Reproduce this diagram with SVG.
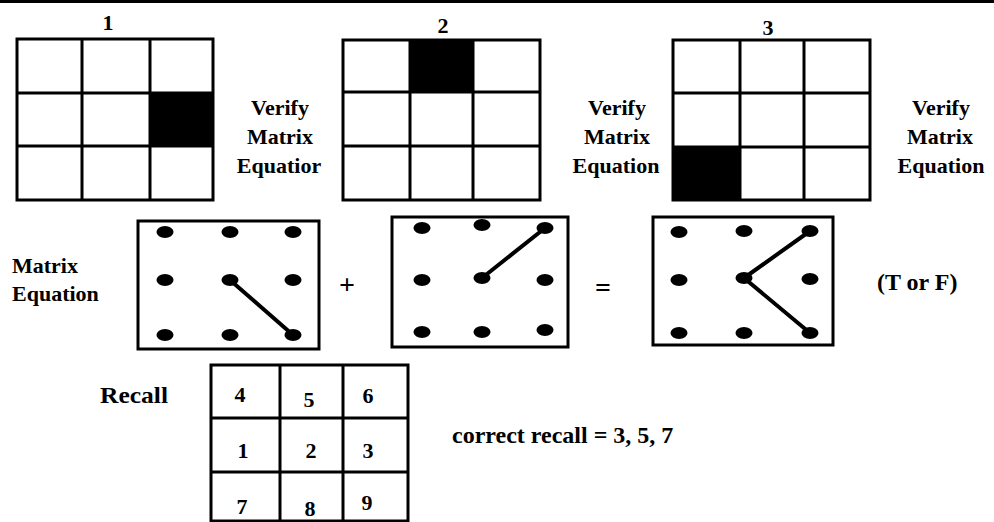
<svg xmlns="http://www.w3.org/2000/svg" width="994" height="522" viewBox="0 0 994 522">
<style>
.bg{fill:#fff}
.g{fill:none;stroke:#000;stroke-width:3}
.blk{fill:#000}
.t{font-family:"Liberation Serif","Times New Roman",serif;font-weight:bold;font-size:22px;fill:#000}
.m{text-anchor:middle}
.d{fill:#000}
.ln{stroke:#000;stroke-width:4;stroke-linecap:round}
</style>
<rect class="bg" x="0" y="0" width="994" height="522"/>
<line x1="0" y1="1.5" x2="994" y2="1.5" stroke="#000" stroke-width="3"/>

<g id="grid1">
<rect class="blk" x="150" y="93" width="63" height="53"/>
<rect class="g" x="17" y="39" width="196" height="161"/>
<path class="g" d="M82 39V200M150 39V200M17 93H213M17 146H213"/>
<text class="t m" x="108" y="30">1</text>
</g>
<g id="verify1">
<text class="t m" x="280" y="115">Verify</text>
<text class="t m" x="280" y="144">Matrix</text>
<text class="t m" x="279" y="173">Equatior</text>
</g>

<g id="grid2">
<rect class="blk" x="410" y="40" width="63" height="52"/>
<rect class="g" x="343" y="40" width="197" height="160"/>
<path class="g" d="M410 40V200M473 40V200M343 92H540M343 146H540"/>
<text class="t m" x="443" y="33">2</text>
</g>
<g id="verify2">
<text class="t m" x="617" y="115">Verify</text>
<text class="t m" x="617" y="144">Matrix</text>
<text class="t m" x="616" y="173">Equation</text>
</g>

<g id="grid3">
<rect class="blk" x="673" y="147" width="67" height="53"/>
<rect class="g" x="673" y="40" width="197" height="160"/>
<path class="g" d="M740 40V200M804 40V200M673 93H870M673 147H870"/>
<text class="t m" x="768" y="35">3</text>
</g>
<g id="verify3">
<text class="t m" x="941" y="115">Verify</text>
<text class="t m" x="940" y="144">Matrix</text>
<text class="t m" x="941" y="173">Equation</text>
</g>

<g id="matrix-equation-label">
<text class="t" x="12" y="273">Matrix</text>
<text class="t" x="12" y="301">Equation</text>
</g>

<g id="pattern1">
<rect class="g" x="138" y="221" width="181" height="128"/>
<ellipse class="d" cx="165" cy="232" rx="8.5" ry="6"/>
<ellipse class="d" cx="230" cy="232" rx="8.5" ry="6"/>
<ellipse class="d" cx="293" cy="232" rx="8.5" ry="6"/>
<ellipse class="d" cx="165" cy="280" rx="8.5" ry="6"/>
<ellipse class="d" cx="230" cy="280" rx="8.5" ry="6"/>
<ellipse class="d" cx="293" cy="280" rx="8.5" ry="6"/>
<ellipse class="d" cx="165" cy="335" rx="8.5" ry="6"/>
<ellipse class="d" cx="230" cy="335" rx="8.5" ry="6"/>
<ellipse class="d" cx="293" cy="335" rx="8.5" ry="6"/>
</g>
<text id="plus" class="t m" x="347" y="294" style="font-size:28px">+</text>

<g id="pattern2">
<rect class="g" x="392" y="217" width="176" height="130"/>
<ellipse class="d" cx="422" cy="228" rx="8.5" ry="6"/>
<ellipse class="d" cx="482" cy="225" rx="8.5" ry="6"/>
<ellipse class="d" cx="545" cy="228" rx="8.5" ry="6"/>
<ellipse class="d" cx="422" cy="280" rx="8.5" ry="6"/>
<ellipse class="d" cx="482" cy="278" rx="8.5" ry="6"/>
<ellipse class="d" cx="545" cy="280" rx="8.5" ry="6"/>
<ellipse class="d" cx="422" cy="332" rx="8.5" ry="6"/>
<ellipse class="d" cx="482" cy="332" rx="8.5" ry="6"/>
<ellipse class="d" cx="545" cy="330" rx="8.5" ry="6"/>
</g>
<text id="equals" class="t m" x="603" y="297" style="font-size:28px">=</text>

<g id="pattern3">
<rect class="g" x="653" y="217" width="180" height="128"/>
<ellipse class="d" cx="679" cy="232" rx="8.5" ry="6"/>
<ellipse class="d" cx="744" cy="231" rx="8.5" ry="6"/>
<ellipse class="d" cx="810" cy="231" rx="8.5" ry="6"/>
<ellipse class="d" cx="679" cy="280" rx="8.5" ry="6"/>
<ellipse class="d" cx="744" cy="278" rx="8.5" ry="6"/>
<ellipse class="d" cx="810" cy="279" rx="8.5" ry="6"/>
<ellipse class="d" cx="679" cy="333" rx="8.5" ry="6"/>
<ellipse class="d" cx="744" cy="333" rx="8.5" ry="6"/>
<ellipse class="d" cx="810" cy="333" rx="8.5" ry="6"/>
</g>
<text id="tf" class="t" x="877" y="290" style="font-size:24px">(T or F)</text>

<g id="connectors">
<line class="ln" x1="230" y1="280" x2="293" y2="335"/>
<line class="ln" x1="482" y1="278" x2="545" y2="228"/>
<line class="ln" x1="744" y1="278" x2="810" y2="231"/>
<line class="ln" x1="744" y1="278" x2="810" y2="333"/>
</g>

<text id="recall-label" class="t" x="100" y="403" style="font-size:23px" textLength="68" lengthAdjust="spacingAndGlyphs">Recall</text>
<g id="recall-grid">
<rect class="g" x="211" y="365" width="197" height="156"/>
<path class="g" d="M280 365V521M343 365V521M211 418H408M211 472H408"/>
<text class="t m" x="240" y="402">4</text>
<text class="t m" x="309" y="407">5</text>
<text class="t m" x="368" y="403">6</text>
<text class="t m" x="243" y="458">1</text>
<text class="t m" x="311" y="458">2</text>
<text class="t m" x="368" y="458">3</text>
<text class="t m" x="242" y="514">7</text>
<text class="t m" x="310" y="516">8</text>
<text class="t m" x="367" y="510">9</text>
</g>
<text id="correct-recall" class="t" x="452" y="443" style="font-size:24px">correct recall = 3, 5, 7</text>
</svg>
